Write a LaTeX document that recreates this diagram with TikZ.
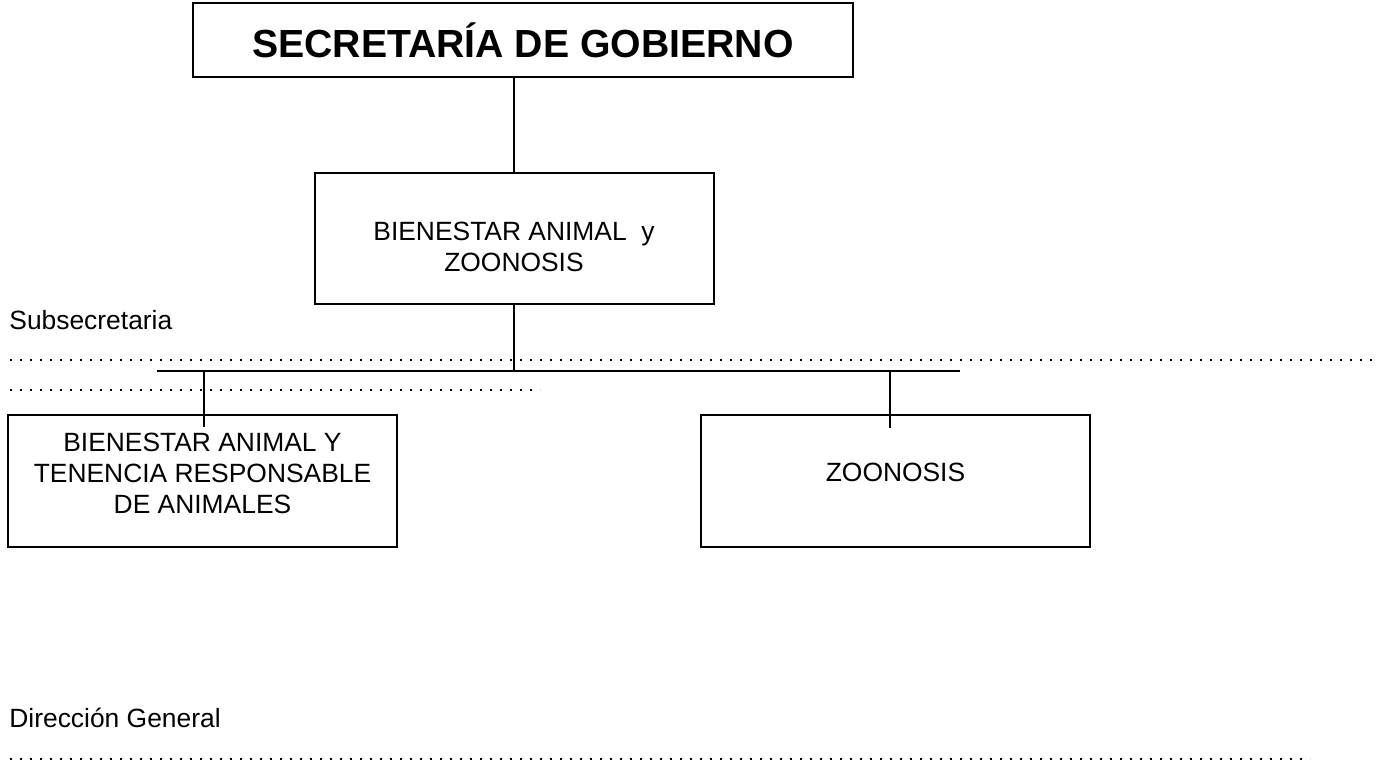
\documentclass[tikz,border=0pt]{standalone}
\usepackage{fontspec}
\setmainfont{Liberation Sans}
\usetikzlibrary{positioning}
\tikzset{unit/.style={draw,line width=1pt,inner sep=0pt},
  unittext/.style={align=center,inner sep=0pt,font=\fontsize{13.2}{15.5}\selectfont},
  link/.style={line width=1pt},
  dotline/.style={line width=1.2pt,dash pattern=on 1.1pt off 3.9pt},
  caption/.style={anchor=base west,inner sep=0pt,font=\fontsize{13.2}{15}\selectfont}}

\begin{document}
\begin{tikzpicture}[x=0.5pt,y=-0.5pt]
    \useasboundingbox (0,0) rectangle (1378,763);

    \node[unit, minimum width=330pt, minimum height=37pt,
      font=\fontsize{19.6}{24}\selectfont\bfseries] (sec) at (523,40.5) {SECRETAR\'IA DE GOBIERNO};

    \node[unit, minimum width=199.5pt, minimum height=65.5pt,
      label={[unittext, yshift=-4pt]center:BIENESTAR ANIMAL~~y\\ZOONOSIS}
      ] (baz) at (514,238.5) {};

    \node[unit, minimum width=194.5pt, minimum height=66pt,
      label={[unittext, yshift=4pt]center:BIENESTAR ANIMAL Y\\TENENCIA RESPONSABLE\\DE ANIMALES}
      ] (tenencia) at (202.5,481) {};

    \node[unit, minimum width=194.5pt, minimum height=66pt,
      label={[unittext, yshift=4.5pt]center:ZOONOSIS}
      ] (zoo) at (895.5,481) {};

    % labels and dotted rows
    \node[caption] (subsec) at (9,330) {Subsecretaria};
    \node[caption] (dirgen) at (9,728) {Direcci\'on General};
    \draw[dotline] (10,360) -- (1372,360);
    \draw[dotline] (10,390) -- (540,390);
    \draw[dotline] (10,759) -- (1310,759);

    % bus
    \coordinate (bus-l) at (157,371);
    \coordinate (bus-r) at (960,371);
    \coordinate (bus-m) at (baz.south |- bus-l);
    \coordinate (tip-t) at (204,427);
    \coordinate (tip-z) at (890,428);

    \draw[link] (sec.south -| baz.north) -- (baz.north);
    \draw[link] (baz.south) -- (bus-m);
    \draw[link] (bus-l) -- (bus-r);
    \draw[link] (tip-t |- bus-l) -- (tip-t);
    \draw[link] (tip-z |- bus-l) -- (tip-z);
\end{tikzpicture}
\end{document}
